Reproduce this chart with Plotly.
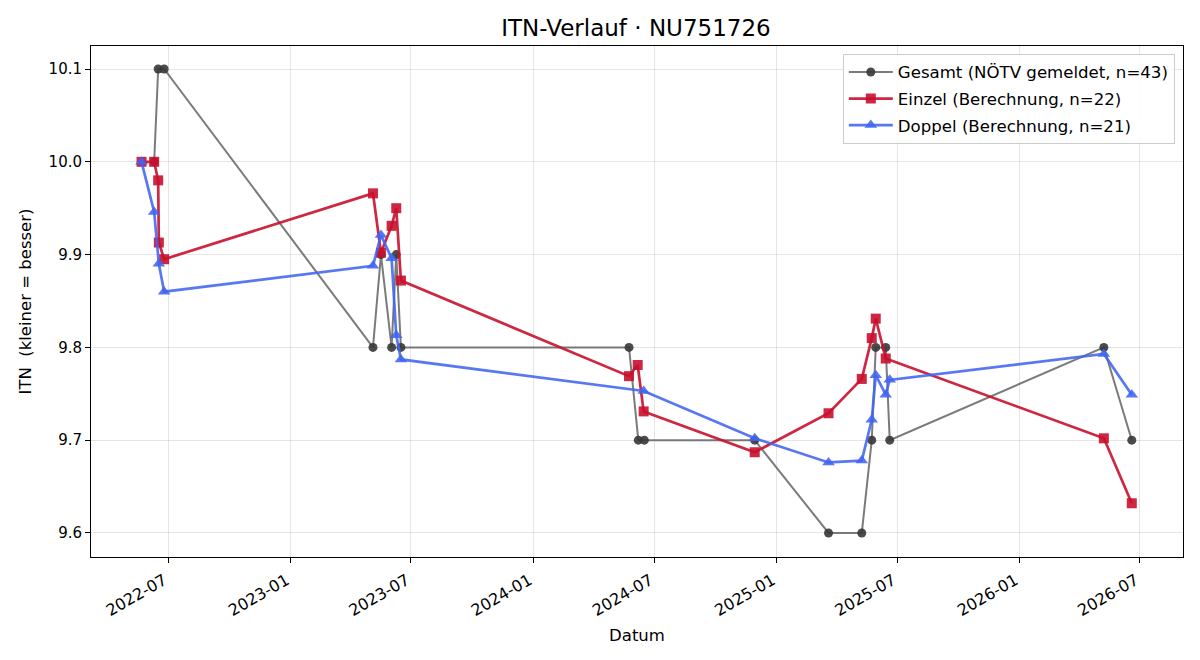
import plotly.graph_objects as go

gesamt_dates = ["2022-06-10", "2022-06-16", "2022-06-25", "2023-05-05", "2023-05-17", "2023-06-02",
                "2023-06-09", "2023-06-16", "2024-05-24", "2024-06-07", "2024-06-16", "2024-11-29",
                "2025-03-20", "2025-05-09", "2025-05-24", "2025-05-30", "2025-06-14", "2025-06-20",
                "2026-05-08", "2026-06-19"]
gesamt_vals = [10.0, 10.1, 10.1, 9.8, 9.9, 9.8, 9.9, 9.8, 9.8, 9.7, 9.7, 9.7,
               9.6, 9.6, 9.7, 9.8, 9.8, 9.7, 9.8, 9.7]

einzel_dates = ["2022-05-22", "2022-06-10", "2022-06-16", "2022-06-17", "2022-06-25", "2023-05-05",
                "2023-05-17", "2023-06-02", "2023-06-09", "2023-06-16", "2024-05-24", "2024-06-06",
                "2024-06-15", "2024-11-29", "2025-03-20", "2025-05-09", "2025-05-24", "2025-05-30",
                "2025-06-14", "2026-05-08", "2026-06-19"]
einzel_vals = [10.0, 10.0, 9.980, 9.913, 9.895, 9.966, 9.902, 9.931, 9.950, 9.872, 9.769, 9.781,
               9.731, 9.687, 9.729, 9.766, 9.810, 9.831, 9.788, 9.702, 9.632]

doppel_dates = ["2022-05-22", "2022-06-10", "2022-06-17", "2022-06-25", "2023-05-05", "2023-05-17",
                "2023-06-02", "2023-06-09", "2023-06-16", "2024-06-15", "2024-11-29", "2025-03-20",
                "2025-05-09", "2025-05-24", "2025-05-30", "2025-06-14", "2025-06-20", "2026-05-08",
                "2026-06-19"]
doppel_vals = [10.0, 9.946, 9.890, 9.860, 9.888, 9.921, 9.896, 9.813, 9.787, 9.753, 9.702, 9.676,
               9.678, 9.722, 9.770, 9.749, 9.765, 9.793, 9.749]

tick_vals = ["2022-07-01", "2023-01-01", "2023-07-01", "2024-01-01", "2024-07-01",
             "2025-01-01", "2025-07-01", "2026-01-01", "2026-07-01"]
tick_text = ["2022-07", "2023-01", "2023-07", "2024-01", "2024-07",
             "2025-01", "2025-07", "2026-01", "2026-07"]
y_ticks = [9.6, 9.7, 9.8, 9.9, 10.0, 10.1]

FONT = "DejaVu Sans"

fig = go.Figure()
fig.add_trace(go.Scatter(
    x=gesamt_dates, y=gesamt_vals, mode="lines+markers",
    name="Gesamt (NÖTV gemeldet, n=43)", legendgroup="g",
    line=dict(color="rgba(100,100,100,0.85)", width=2),
    marker=dict(symbol="circle", size=9, color="rgba(55,55,55,0.9)"),
))
fig.add_trace(go.Scatter(
    x=einzel_dates, y=einzel_vals, mode="lines+markers",
    name="Einzel (Berechnung, n=22)", legendgroup="e",
    line=dict(color="rgba(200,16,46,0.9)", width=2.7),
    marker=dict(symbol="square", size=10, color="rgba(200,16,46,0.9)"),
))
fig.add_trace(go.Scatter(
    x=doppel_dates, y=doppel_vals, mode="lines+markers",
    name="Doppel (Berechnung, n=21)", legendgroup="d",
    line=dict(color="rgba(65,100,240,0.88)", width=2.7),
    marker=dict(symbol="triangle-up", size=11, color="rgba(65,100,240,0.88)"),
))

fig.update_layout(
    width=1200, height=660,
    margin=dict(l=91, r=17, t=46, b=103),
    paper_bgcolor="white", plot_bgcolor="white",
    font=dict(family=FONT, size=15, color="black"),
    title=dict(text="ITN-Verlauf · NU751726", x=0.53, xanchor="center", y=0.958, yanchor="middle",
               font=dict(family=FONT, size=23, color="black")),
    showlegend=True,
    legend=dict(x=0.9925, xanchor="right", y=0.985, yanchor="top",
                bgcolor="rgba(255,255,255,0.85)", bordercolor="#cccccc", borderwidth=1,
                font=dict(family=FONT, size=16.6, color="black"),
                itemwidth=44, traceorder="grouped", tracegroupgap=2),
    xaxis=dict(
        type="date", range=["2022-03-07", "2026-09-04"],
        tickmode="array", tickvals=tick_vals, ticktext=tick_text, tickangle=-30,
        showgrid=True, gridcolor="rgba(0,0,0,0.1)", gridwidth=1,
        showline=True, linecolor="black", linewidth=1, mirror=True,
        ticks="outside", ticklen=5, tickcolor="black",
        tickfont=dict(family=FONT, size=16),
        ticklabelshift=-4, ticklabelstandoff=2,
        title=dict(text="Datum", font=dict(family=FONT, size=16.5), standoff=10),
        zeroline=False,
    ),
    yaxis=dict(
        range=[9.5741, 10.1248],
        tickmode="array", tickvals=y_ticks, ticktext=["9.6", "9.7", "9.8", "9.9", "10.0", "10.1"],
        showgrid=True, gridcolor="rgba(0,0,0,0.1)", gridwidth=1,
        showline=True, linecolor="black", linewidth=1, mirror=True,
        ticks="outside", ticklen=5, tickcolor="black",
        tickfont=dict(family=FONT, size=15),
        title=dict(text="ITN  (kleiner = besser)", font=dict(family=FONT, size=16.5), standoff=12),
        zeroline=False,
    ),
)

fig.write_html("out.html")
